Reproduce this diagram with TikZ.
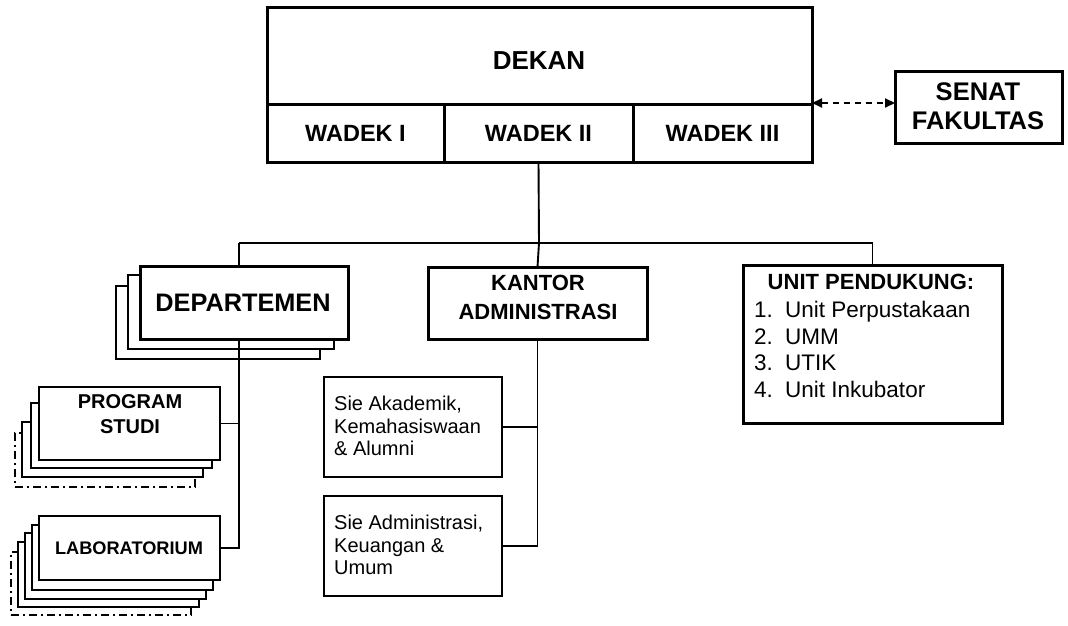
\documentclass[tikz,border=0pt]{standalone}
\usepackage{fontspec}
\setmainfont{Liberation Sans}
\usetikzlibrary{arrows.meta,calc}
\begin{document}
\begin{tikzpicture}[x=1pt,y=-1pt,
  box/.style={draw, fill=white, inner sep=0pt, outer sep=0pt, anchor=north west},
  heavy/.style={box, line width=3pt},
  light/.style={box, line width=2pt},
  ghost/.style={box, line width=1.8pt, dash pattern=on 8pt off 4pt on 2pt off 4pt},
  conn/.style={line width=1.9pt},
  lbl/.style={inner sep=0pt, align=center},
  txtf/.style={font=\fontsize{20}{22.5}\selectfont},
]
\useasboundingbox (0,0) rectangle (1068,626);

% Dekan block
\node[heavy, minimum width=545, minimum height=96] (dekan) at (267,8) {};
\node[lbl, font=\bfseries\fontsize{26}{29}\selectfont] (tdekan) at (539,61) {DEKAN};
\node[heavy, minimum width=177, minimum height=58] (w1) at (267,104) {};
\node[heavy, minimum width=189, minimum height=58] (w2) at (444,104) {};
\node[heavy, minimum width=179, minimum height=58] (w3) at (633,104) {};
\node[lbl, font=\bfseries\fontsize{23.5}{29}\selectfont] at (w1.center) {WADEK I};
\node[lbl, font=\bfseries\fontsize{23.5}{29}\selectfont] at (w2.center) {WADEK II};
\node[lbl, font=\bfseries\fontsize{23.5}{29}\selectfont] at (w3.center) {WADEK III};

% Senat
\node[heavy, minimum width=167, minimum height=71] (senat) at (895,72) {};
\node[lbl, font=\bfseries\fontsize{25.5}{29.5}\selectfont] at (978,106) {SENAT\\FAKULTAS};
\coordinate (dr) at (812,103);
\draw[line width=1.8pt, dash pattern=on 6pt off 5pt,
  {Triangle[length=10pt,width=9pt]}-{Triangle[length=10pt,width=9pt]}]
  (dr) -- (senat.west |- dr);

% Departemen stack
\node[light, minimum width=204, minimum height=73] (dep3) at (116,286) {};
\node[light, minimum width=206, minimum height=74] (dep2) at (128,275) {};
\node[heavy, minimum width=208, minimum height=73] (dep) at (140,266) {};
\node[lbl, font=\bfseries\fontsize{25.3}{29}\selectfont] at (243,303) {DEPARTEMEN};

% Kantor
\node[heavy, minimum width=219, minimum height=72] (kantor) at (428,267) {};
\node[lbl, font=\bfseries\fontsize{22}{29}\selectfont] at (538,297) {KANTOR\\ADMINISTRASI};

% Unit pendukung
\node[heavy, minimum width=259, minimum height=158] (unit) at (743,265) {};
\node[lbl, font=\bfseries\fontsize{22}{26}\selectfont] (tunit) at (871,282) {UNIT PENDUKUNG:};
\node[inner sep=0pt, anchor=north west, align=left, font=\fontsize{22.5}{26.7}\selectfont] (lunit) at (754,301)
  {\makebox[31pt][l]{1.}Unit Perpustakaan\\\makebox[31pt][l]{2.}UMM\\\makebox[31pt][l]{3.}UTIK\\\makebox[31pt][l]{4.}Unit Inkubator};

% Sie boxes
\node[light, minimum width=178, minimum height=100] (sie1) at (324,377) {};
\node[lbl, txtf, anchor=west, align=left] at (334,426) {Sie Akademik,\\Kemahasiswaan\\\& Alumni};
\node[light, minimum width=178, minimum height=100] (sie2) at (324,496) {};
\node[lbl, txtf, anchor=west, align=left] at (334,545) {Sie Administrasi,\\Keuangan \&\\Umum};

% Program studi stack
\node[ghost, minimum width=180, minimum height=54] (ps4) at (15,433) {};
\node[light, minimum width=181, minimum height=55] (ps3) at (22,422) {};
\node[light, minimum width=181, minimum height=65] (ps2) at (31,403) {};
\node[light, minimum width=181, minimum height=73] (ps) at (39,387) {};
\node[lbl, font=\bfseries\fontsize{20}{25}\selectfont] at (130,414) {PROGRAM\\STUDI};

% Laboratorium stack
\node[ghost, minimum width=180, minimum height=63] (lab5) at (11,552) {};
\node[light, minimum width=181, minimum height=65] (lab4) at (18,542) {};
\node[light, minimum width=181, minimum height=66] (lab3) at (25,533) {};
\node[light, minimum width=181, minimum height=65] (lab2) at (32,525) {};
\node[light, minimum width=181, minimum height=64] (lab) at (39,516) {};
\node[lbl, font=\bfseries\fontsize{18.2}{22}\selectfont] at (129,548) {LABORATORIUM};

% Connectors
\coordinate (bus) at (539,243);
\coordinate (depx) at (239,0);
\draw[conn] (w2.south) -- (bus);
\draw[conn] (bus) -- (kantor.north);
\draw[conn] (depx |- bus) -- (bus) -| (unit.north);
\draw[conn] (depx |- bus) -- (depx |- dep.north);
\draw[conn] (depx |- dep.south) -- (depx |- lab.east) -- (lab.east);
\draw[conn] (ps.east) -- (depx |- ps.east);
\draw[conn] (kantor.south) -- (kantor.south |- sie2.east) -- (sie2.east);
\draw[conn] (sie1.east) -- (kantor.south |- sie1.east);
\end{tikzpicture}
\end{document}
